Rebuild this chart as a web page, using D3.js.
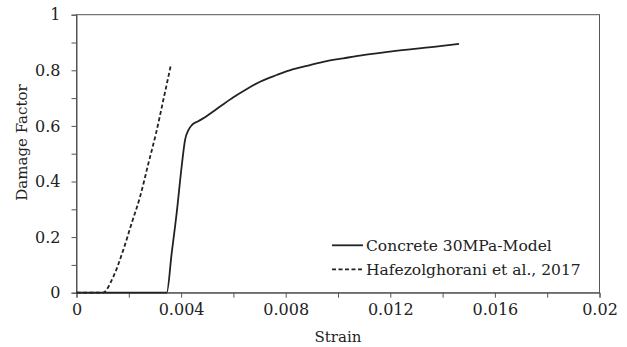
<!DOCTYPE html>
<html><head><meta charset="utf-8">
<script src="https://cdn.jsdelivr.net/npm/d3@7"></script>
<style>body{margin:0;background:#fff}svg{display:block}svg text{fill:#222}</style>
</head><body><div id="c"></div>
<script>
const modelStrain = [0, 0.00345, 0.00364, 0.00383, 0.00402, 0.00415, 0.00428, 0.00441, 0.00465, 0.0049, 0.0052, 0.0056, 0.006, 0.0065, 0.00702, 0.00766, 0.00829, 0.00893, 0.00957, 0.0102, 0.01084, 0.01199, 0.0139, 0.01463];
const modelDamage = [0, 0, 0.142, 0.286, 0.453, 0.549, 0.585, 0.603, 0.617, 0.630, 0.650, 0.677, 0.703, 0.732, 0.759, 0.783, 0.804, 0.819, 0.833, 0.843, 0.853, 0.867, 0.887, 0.895];
const refStrain = [0, 0.0010, 0.00141, 0.00179, 0.00211, 0.00243, 0.00275, 0.00304, 0.00332, 0.0036];
const refDamage = [0, 0, 0.058, 0.154, 0.25, 0.345, 0.465, 0.573, 0.693, 0.815];
const xTicks = [0, 0.004, 0.008, 0.012, 0.016, 0.02];
const xTickLabels = ["0", "0.004", "0.008", "0.012", "0.016", "0.02"];
const yTicks = [0, 0.2, 0.4, 0.6, 0.8, 1];
const yTickLabels = ["0", "0.2", "0.4", "0.6", "0.8", "1"];
const seriesNames = ["Concrete 30MPa-Model", "Hafezolghorani et al., 2017"];

const W = 627, H = 347;
const m = {l: 76.5, r: 27.5, t: 14.7, b: 54.3};
const FONT = '"DejaVu Serif","Liberation Serif",serif';
const svg = d3.select("#c").append("svg").attr("width", W).attr("height", H);
const x = d3.scaleLinear().domain([0, 0.02]).range([m.l, W - m.r]);
const y = d3.scaleLinear().domain([0, 1]).range([H - m.b, m.t]);
const axisColor = "#555";

svg.append("rect").attr("x", x(0)).attr("y", y(1)).attr("width", x(0.02) - x(0)).attr("height", y(0) - y(1))
  .attr("fill", "none").attr("stroke", axisColor).attr("stroke-width", 1);

const xMinor = d3.range(0, 0.0201, 0.002);
const gx = svg.append("g").attr("transform", `translate(0,${y(0)})`)
  .call(d3.axisBottom(x).tickValues(xMinor).tickSize(5).tickFormat(d => {
    const i = xTicks.findIndex(t => Math.abs(t - d) < 1e-9);
    return i >= 0 ? xTickLabels[i] : "";
  }).tickPadding(6));
gx.attr("font-family", FONT).attr("font-size", 16);
gx.selectAll("text").attr("fill", "#222");
gx.select(".domain").attr("stroke", axisColor);
gx.selectAll(".tick line").attr("stroke", axisColor);

const yMinor = d3.range(0, 1.001, 0.1);
const gy = svg.append("g").attr("transform", `translate(${x(0)},0)`)
  .call(d3.axisLeft(y).tickValues(yMinor).tickSize(5).tickFormat(d => {
    const i = yTicks.findIndex(t => Math.abs(t - d) < 1e-9);
    return i >= 0 ? yTickLabels[i] : "";
  }).tickPadding(11));
gy.attr("font-family", FONT).attr("font-size", 16);
gy.selectAll("text").attr("fill", "#222");
gy.select(".domain").attr("stroke", axisColor);
gy.selectAll(".tick line").attr("stroke", axisColor);

svg.append("text").attr("x", (x(0) + x(0.02)) / 2).attr("y", 337).attr("dy", "0.35em")
  .attr("text-anchor", "middle").attr("font-family", FONT).attr("font-size", 15).text("Strain");
svg.append("text").attr("transform", `translate(22,142.5) rotate(-90)`).attr("dy", "0.35em")
  .attr("text-anchor", "middle").attr("font-family", FONT).attr("font-size", 15).text("Damage Factor");

const line = d3.line().x(d => x(d[0])).y(d => y(d[1])).curve(d3.curveMonotoneX);
svg.append("path").datum(modelStrain.map((s, i) => [s, modelDamage[i]]))
  .attr("d", line).attr("fill", "none").attr("stroke", "#222").attr("stroke-width", 1.8);
svg.append("path").datum(refStrain.map((s, i) => [s, refDamage[i]]))
  .attr("d", line).attr("fill", "none").attr("stroke", "#222").attr("stroke-width", 1.8).attr("stroke-dasharray", "4,2.5");

const leg = [{dash: null, yy: 245.3}, {dash: "4,2.5", yy: 269.3}];
leg.forEach((l, i) => {
  svg.append("line").attr("x1", 332).attr("x2", 363).attr("y1", l.yy).attr("y2", l.yy)
    .attr("stroke", "#222").attr("stroke-width", 1.8).attr("stroke-dasharray", l.dash);
  svg.append("text").attr("x", 366).attr("y", l.yy).attr("dy", "0.35em").attr("font-family", FONT).attr("font-size", 15.5).text(seriesNames[i]);
});
</script></body></html>
